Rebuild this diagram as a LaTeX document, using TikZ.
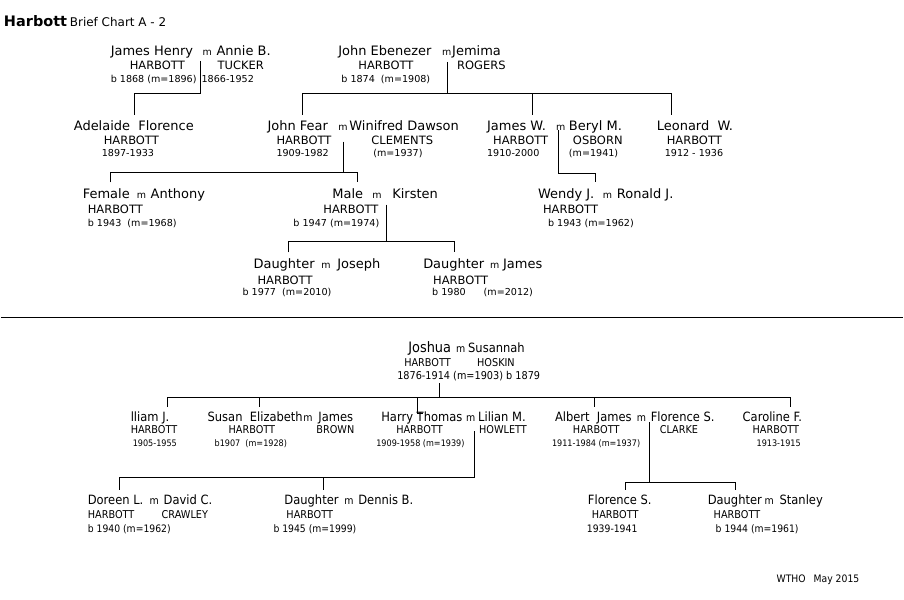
\documentclass[tikz,border=0pt]{standalone}
\usepackage{fontspec}
\setmainfont{DejaVu Sans}
\newfontfamily\lowfont[FakeStretch=0.9]{DejaVu Sans}
\usetikzlibrary{calc}

\begin{document}
\begin{tikzpicture}[
  x=1pt, y=-1pt,
  txt/.style={anchor=base west, inner sep=0pt},
  nm/.style={txt, text height=16pt, font=\fontsize{13}{15}\selectfont},
  mk/.style={txt, font=\fontsize{9.5}{11}\selectfont},
  sn/.style={txt, font=\fontsize{11.5}{13}\selectfont},
  dt/.style={txt, font=\fontsize{9.6}{11}\selectfont},
  lnm/.style={txt, text height=14pt, font=\lowfont\fontsize{12.8}{15}\selectfont},
  lmk/.style={txt, font=\lowfont\fontsize{10.5}{12}\selectfont},
  lsn/.style={txt, font=\lowfont\fontsize{10.8}{13}\selectfont},
  ldt/.style={txt, font=\lowfont\fontsize{9}{11}\selectfont},
  ldtb/.style={txt, font=\lowfont\fontsize{10.3}{12}\selectfont},
  link/.style={line width=1pt}
]

\fill[white] (0,0) rectangle (904,601);

% Title
\node[txt, font=\bfseries\fontsize{14.5}{17}\selectfont] (title) at (3,27) {Harbott};
\node[txt, font=\fontsize{12}{14}\selectfont] (subtitle) at (69,27) {Brief Chart A - 2};

% James Henry m Annie B.
\node[nm] (jamesH) at (110,56) {James Henry};
\node[mk] (jamesHm) at (202,56) {m};
\node[nm] (annie) at (216,56) {Annie\ B.};
\node[sn] (jamesHs) at (129,70) {HARBOTT};
\node[sn] (annieS) at (217,70) {TUCKER};
\node[dt] (jamesHd) at (110,83) {b 1868 (m=1896)};
\node[dt] (annieD) at (201,83) {1866-1952};

% John Ebenezer m Jemima
\node[nm] (johnE) at (338,56) {John Ebenezer};
\node[mk] (johnEm) at (442,56) {m};
\node[nm] (jemima) at (452,56) {Jemima};
\node[sn] (johnEs) at (358,70) {HARBOTT};
\node[sn] (jemimaS) at (457,70) {ROGERS};
\node[dt] (johnEd) at (341,83) {b 1874\ \ (m=1908)};

% Second generation
\node[nm] (adelaide) at (73,131) {Adelaide\ \ Florence};
\node[sn] (adelaideS) at (103,145) {HARBOTT};
\node[dt] (adelaideD) at (101,157) {1897-1933};

\node[nm] (johnF) at (267,131) {John Fear};
\node[mk] (johnFm) at (338,131) {m};
\node[nm] (winifred) at (349,131) {Winifred Dawson};
\node[sn] (johnFs) at (276,145) {HARBOTT};
\node[sn] (winifredS) at (371,145) {CLEMENTS};
\node[dt] (johnFd) at (276,157) {1909-1982};
\node[dt] (winifredD) at (373,157) {(m=1937)};

\node[nm] (jamesW) at (487,131) {James W.};
\node[mk] (jamesWm) at (556,131) {m};
\node[nm] (beryl) at (569,131) {Beryl M.};
\node[sn] (jamesWs) at (493,145) {HARBOTT};
\node[sn] (berylS) at (573,145) {OSBORN};
\node[dt] (jamesWd) at (487,157) {1910-2000};
\node[dt] (berylD) at (569,157) {(m=1941)};

\node[nm] (leonard) at (657,131) {Leonard\ \ W.};
\node[sn] (leonardS) at (667,145) {HARBOTT};
\node[dt] (leonardD) at (665,157) {1912 - 1936};

% Third generation
\node[nm] (female) at (82,199) {Female};
\node[mk] (femalem) at (136,199) {m};
\node[nm] (anthony) at (150,199) {Anthony};
\node[sn] (femaleS) at (87,214) {HARBOTT};
\node[dt] (femaleD) at (87,227) {b 1943\ \ (m=1968)};

\node[nm] (male) at (332,199) {Male};
\node[mk] (malem) at (372,199) {m};
\node[nm] (kirsten) at (392,199) {Kirsten};
\node[sn] (maleS) at (323,214) {HARBOTT};
\node[dt] (maleD) at (293,227) {b 1947 (m=1974)};

\node[nm] (wendy) at (538,199) {Wendy J.};
\node[mk] (wendym) at (603,199) {m};
\node[nm] (ronald) at (617,199) {Ronald J.};
\node[sn] (wendyS) at (543,214) {HARBOTT};
\node[dt] (wendyD) at (548,227) {b 1943 (m=1962)};

% Fourth generation
\node[nm] (dauA) at (253,269) {Daughter};
\node[mk] (dauAm) at (321,269) {m};
\node[nm] (joseph) at (337,269) {Joseph};
\node[sn] (dauAs) at (257,285) {HARBOTT};
\node[dt] (dauAd) at (242,296) {b 1977\ \ (m=2010)};

\node[nm] (dauB) at (423,269) {Daughter};
\node[mk] (dauBm) at (490,269) {m};
\node[nm] (jamesD) at (503,269) {James};
\node[sn] (dauBs) at (433,285) {HARBOTT};
\node[dt] (dauBd) at (432,296) {b 1980\hspace{18pt}(m=2012)};

% Links, upper chart
\coordinate (jhTop) at (200,61);
\coordinate (jhBar) at (134,94);
\draw[link] (jhTop) |- (jhBar) -- (adelaide.north -| jhBar);

\coordinate (jeTop) at (447,62);
\coordinate (jeBarL) at (302,94);
\coordinate (jeBarM) at (533,94);
\coordinate (jeBarR) at (672,94);
\draw[link] (jeTop) -- (jeTop |- jeBarL);
\draw[link] (johnF.north -| jeBarL) -- (jeBarL) -- (jeBarR) -- (leonard.north -| jeBarR);
\draw[link] (jeBarM) -- (jamesW.north -| jeBarM);

\coordinate (jfTop) at (343,142);
\coordinate (jfBarL) at (110,173);
\coordinate (jfBarR) at (357,173);
\draw[link] (jfTop) -- (jfTop |- jfBarL);
\draw[link] (female.north -| jfBarL) -- (jfBarL) -- (jfBarR) -- (male.north -| jfBarR);

\coordinate (jwTop) at (559,130);
\coordinate (jwBar) at (596,174);
\draw[link] (jwTop) |- (jwBar) -- (wendy.north -| jwBar);

\coordinate (mkTop) at (386,205);
\coordinate (mkBarL) at (288,242);
\coordinate (mkBarR) at (454,242);
\draw[link] (mkTop) -- (mkTop |- mkBarL);
\draw[link] (dauA.north -| mkBarL) -- (mkBarL) -- (mkBarR) -- (dauB.north -| mkBarR);

% Separator
\draw[line width=1.6pt] (0,318) -- (904,318);

% Joshua m Susannah
\node[lnm, font=\lowfont\fontsize{14.4}{16}\selectfont] (joshua) at (408,353) {Joshua};
\node[lmk] (joshuam) at (456,353) {m};
\node[lnm] (susannah) at (468,353) {Susannah};
\node[lsn] (joshuaS) at (404,367) {HARBOTT};
\node[lsn] (susannahS) at (477,367) {HOSKIN};
\node[ldtb, font=\lowfont\fontsize{10.8}{12}\selectfont] (joshuaD) at (397,380) {1876-1914 (m=1903) b 1879};

% Children
\node[lnm] (william) at (130,422) {lliam J.};
\node[lsn] (williamS) at (130,434) {HARBOTT};
\node[ldt] (williamD) at (132,447) {1905-1955};

\node[lnm] (susan) at (207,422) {Susan\ \ Elizabeth};
\node[lmk] (susanm) at (303,422) {m};
\node[lnm] (jamesB) at (318,422) {James};
\node[lsn] (susanS) at (228,434) {HARBOTT};
\node[lsn] (jamesBs) at (316,434) {BROWN};
\node[ldt] (susanD) at (214,447) {b1907\ \ (m=1928)};

\node[lnm] (harry) at (381,422) {Harry Thomas};
\node[lmk] (harrym) at (466,422) {m};
\node[lnm] (lilian) at (478,422) {Lilian M.};
\node[lsn] (harryS) at (396,434) {HARBOTT};
\node[lsn] (lilianS) at (479,434) {HOWLETT};
\node[ldt] (harryD) at (376,447) {1909-1958 (m=1939)};

\node[lnm] (albert) at (555,422) {Albert\ \ James};
\node[lmk] (albertm) at (637,422) {m};
\node[lnm] (florence) at (651,422) {Florence S.};
\node[lsn] (albertS) at (573,434) {HARBOTT};
\node[lsn] (florenceS) at (660,434) {CLARKE};
\node[ldt] (albertD) at (552,447) {1911-1984 (m=1937)};

\node[lnm] (caroline) at (743,422) {Caroline F.};
\node[lsn] (carolineS) at (753,434) {HARBOTT};
\node[ldt] (carolineD) at (757,447) {1913-1915};

% Grandchildren
\node[lnm] (doreen) at (87,505) {Doreen L.};
\node[lmk] (doreenm) at (149,505) {m};
\node[lnm] (david) at (163,505) {David C.};
\node[lsn] (doreenS) at (87,519) {HARBOTT};
\node[lsn] (davidS) at (161,519) {CRAWLEY};
\node[ldtb] (doreenD) at (87,533) {b 1940 (m=1962)};

\node[lnm] (dauC) at (284,505) {Daughter};
\node[lmk] (dauCm) at (344,505) {m};
\node[lnm] (dennis) at (358,505) {Dennis B.};
\node[lsn] (dauCs) at (286,519) {HARBOTT};
\node[ldtb] (dauCd) at (273,533) {b 1945 (m=1999)};

\node[lnm] (florS) at (588,505) {Florence S.};
\node[lsn] (florSs) at (592,519) {HARBOTT};
\node[ldtb] (florSd) at (587,533) {1939-1941};

\node[lnm] (dauD) at (708,505) {Daughter};
\node[lmk] (dauDm) at (765,505) {m};
\node[lnm] (stanley) at (780,505) {Stanley};
\node[lsn] (dauDs) at (714,519) {HARBOTT};
\node[ldtb] (dauDd) at (716,533) {b 1944 (m=1961)};

\node[ldtb] (stamp) at (777,584) {WTHO\hspace{8pt}May 2015};

% Links, lower chart
\coordinate (joTop) at (439,384);
\coordinate (joBarL) at (167,398);
\coordinate (joBarS) at (259,398);
\coordinate (joBarH) at (417,398);
\coordinate (joBarA) at (595,398);
\coordinate (joBarR) at (791,398);
\draw[link] (joTop) -- (joTop |- joBarL);
\draw[link] (william.north -| joBarL) -- (joBarL) -- (joBarR) -- (caroline.north -| joBarR);
\draw[link] (joBarS) -- (susan.north -| joBarS);
\draw[link] (joBarH) -- ($(harry.north -| joBarH)+(0,6)$) -- ++(6,0);
\draw[link] (joBarA) -- (albert.north -| joBarA);

\coordinate (htTop) at (475,432);
\coordinate (htBarL) at (119,478);
\coordinate (htBarM) at (323,478);
\draw[link] (htTop) |- (htBarL) -- (doreen.north -| htBarL);
\draw[link] (htBarM) -- (dauC.north -| htBarM);

\coordinate (ajTop) at (650,423);
\coordinate (ajBarL) at (626,483);
\coordinate (ajBarR) at (736,483);
\draw[link] (ajTop) -- (ajTop |- ajBarL);
\draw[link] (florS.north -| ajBarL) -- (ajBarL) -- (ajBarR) -- (dauD.north -| ajBarR);

\end{tikzpicture}
\end{document}
